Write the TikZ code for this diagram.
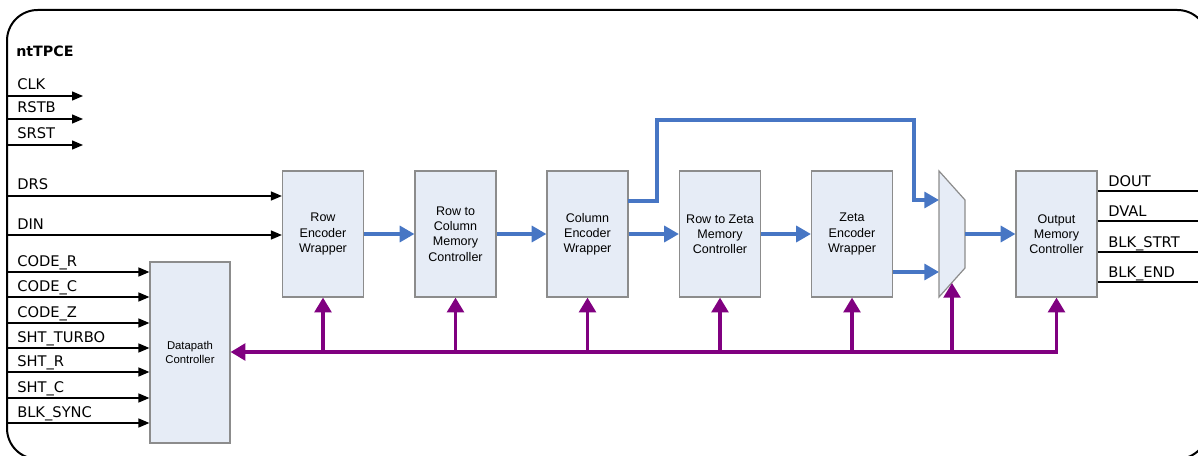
\documentclass[tikz,border=0pt]{standalone}
\usepackage{fontspec}
\setmainfont{Liberation Sans}
\newfontfamily\labfont{DejaVu Sans}
\usetikzlibrary{arrows.meta}

\definecolor{boxfill}{RGB}{230,236,246}
\definecolor{boxline}{RGB}{140,140,140}
\definecolor{busblue}{RGB}{71,118,196}
\definecolor{ctrlpurple}{RGB}{128,0,128}

\begin{document}
\begin{tikzpicture}[x=0.75pt,y=-0.75pt,
  blk/.style={draw=boxline, fill=boxfill, line width=0.9pt, minimum width=60.75pt,
    minimum height=94.5pt, inner sep=1pt, align=center,
    font=\fontsize{9.4}{11.4}\selectfont},
  sig/.style={font=\labfont\fontsize{11}{13}\selectfont, anchor=base west, inner sep=0pt},
  inarrow/.style={line width=1.1pt, -{Triangle[length=8.25pt,width=6.75pt]}},
  outwire/.style={line width=1.1pt},
  data/.style={draw=busblue, line width=2.4pt, -{Triangle[length=11pt,width=12pt]}},
  ctrl/.style={draw=ctrlpurple, line width=2.4pt, -{Triangle[length=11pt,width=12.5pt]}},
  busline/.style={draw=ctrlpurple, line width=2.4pt,
    {Triangle[length=11pt,width=12.5pt]}-{Triangle[length=11pt,width=12.5pt]}},
]
\useasboundingbox (0,0) rectangle (1198,456);

% outer module frame
\draw[line width=1.5pt, rounded corners=23pt] (7,10) rectangle (1208,459);
\node[font=\labfont\bfseries\fontsize{10.7}{13}\selectfont, anchor=base west, inner sep=0pt]
  (title) at (16,57) {ntTPCE};

% processing blocks
\node[blk] (row)  at (323,234)   {Row\\Encoder\\Wrapper};
\node[blk] (r2c)  at (455.5,234) {Row to\\Column\\Memory\\Controller};
\node[blk] (col)  at (587.5,234) {Column\\Encoder\\Wrapper};
\node[blk] (r2z)  at (720,234)   {Row to Zeta\\Memory\\Controller};
\node[blk] (zeta) at (852,234)   {Zeta\\Encoder\\Wrapper};
\node[blk] (out)  at (1056.5,234) {Output\\Memory\\Controller};
\node[blk, minimum width=60pt, minimum height=135.75pt,
      font=\fontsize{8.5}{10.8}\selectfont] (dp) at (190,352.5) {Datapath\\Controller};

% output multiplexer
\coordinate (mux-tl) at (939,171);
\coordinate (mux-tr) at (965,200);
\coordinate (mux-br) at (965,268);
\coordinate (mux-bl) at (939,297);
\draw[draw=boxline, fill=boxfill, line width=0.9pt] (mux-tl) -- (mux-tr) -- (mux-br) -- (mux-bl) -- cycle;
\coordinate (mux-in1) at (939,200);
\coordinate (mux-in2) at (939,272);
\coordinate (mux-out) at (965,234);
\coordinate (mux-sel) at (952,283);

% global inputs without a visible destination
\foreach \name/\yy/\id in {CLK/96/clk, RSTB/119/rstb, SRST/145/srst} {
  \coordinate (in-\id) at (7,\yy);
  \coordinate (end-\id) at (83,\yy);
  \node[sig] (lab-\id) at (17,\yy-6) {\name};
  \draw[inarrow] (in-\id) -- (end-\id);
}

% data inputs to the row encoder
\foreach \name/\yy/\id in {DRS/196/drs, DIN/235/din} {
  \coordinate (in-\id) at (7,\yy);
  \node[sig] (lab-\id) at (17,\yy-6) {\name};
  \draw[inarrow] (in-\id) -- (in-\id -| row.west);
}

% configuration inputs to the datapath controller
\foreach \name/\yy/\id in {CODE\_R/272/cr, CODE\_C/297/cc, CODE\_Z/323/cz,
    SHT\_TURBO/348/st, SHT\_R/372/sr, SHT\_C/398/sc, BLK\_SYNC/423/bs} {
  \coordinate (in-\id) at (7,\yy);
  \node[sig] (lab-\id) at (17,\yy-6) {\name};
  \draw[inarrow] (in-\id) -- (in-\id -| dp.west);
}

% outputs
\foreach \name/\yy/\id in {DOUT/191/dout, DVAL/221/dval, BLK\_STRT/252/bst, BLK\_END/282/bend} {
  \coordinate (o-\id) at (1200,\yy);
  \node[sig] (lab-\id) at (1108,\yy-5) {\name};
  \draw[outwire] (o-\id -| out.east) -- (o-\id);
}

% data path
\draw[data] (row.east) -- (r2c.west);
\draw[data] (r2c.east) -- (col.west);
\draw[data] (col.east) -- (r2z.west);
\draw[data] (r2z.east) -- (zeta.west);
\draw[data] (mux-out) -- (out.west);
\coordinate (colbyp) at (628,201);
\draw[data] (colbyp) -| (657,120) -| (914,200) -- (mux-in1);
\coordinate (zetaout) at (893,272);
\draw[data] (zetaout) -- (mux-in2);

% control bus
\coordinate (bus) at (0,352);
\draw[busline] (dp.east |- bus) -- (out.south |- bus) -- (out.south);
\foreach \b in {row, r2c, col, r2z, zeta}
  \draw[ctrl] (\b.south |- bus) -- (\b.south);
\draw[ctrl] (mux-sel |- bus) -- (mux-sel);
\end{tikzpicture}
\end{document}
